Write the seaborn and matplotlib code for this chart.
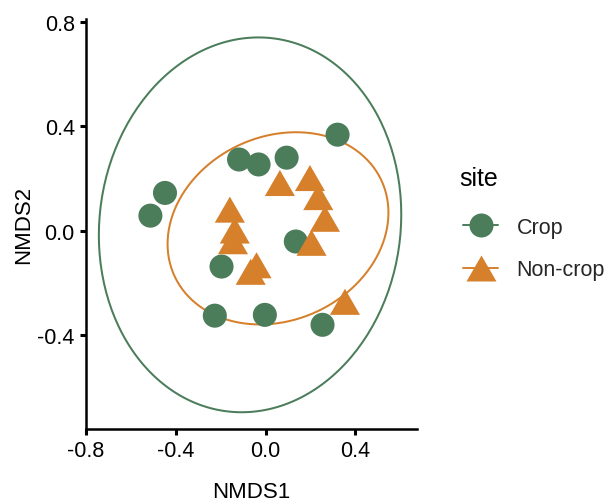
import numpy as np
import pandas as pd
import matplotlib
matplotlib.use("Agg")
import matplotlib.pyplot as plt
from matplotlib.lines import Line2D
import seaborn as sns

# ---- data ----
sites = ["Crop", "Non-crop"]
crop_x = [0.321, -0.118, -0.031, 0.094, -0.448, -0.513, 0.135, -0.196, -0.226, -0.003, 0.254]
crop_y = [0.367, 0.272, 0.253, 0.279, 0.144, 0.057, -0.042, -0.138, -0.326, -0.323, -0.361]
noncrop_x = [0.064, 0.198, 0.235, 0.265, 0.205, -0.159, -0.137, -0.145, -0.040, -0.066, 0.354]
noncrop_y = [0.182, 0.201, 0.128, 0.045, -0.047, 0.080, 0.000, -0.041, -0.133, -0.158, -0.273]
x_ticks = [-0.8, -0.4, 0.0, 0.4]
y_ticks = [-0.4, 0.0, 0.4, 0.8]

df = pd.DataFrame({
    "NMDS1": crop_x + noncrop_x,
    "NMDS2": crop_y + noncrop_y,
    "site": ["Crop"] * len(crop_x) + ["Non-crop"] * len(noncrop_x),
})

colors = {"Crop": "#4B7D5B", "Non-crop": "#D6802C"}
tri = [(-1, -0.866), (1, -0.866), (0, 0.866)]
markers = {"Crop": "o", "Non-crop": tri}

sns.set_theme(style="ticks")
plt.rcParams["font.family"] = ["Liberation Sans", "DejaVu Sans"]

fig = plt.figure(figsize=(6.11, 5.02), dpi=100)
ax = fig.add_axes([86 / 611, 1 - 430 / 502, (417 - 86) / 611, (430 - 20) / 502])

sns.scatterplot(data=df, x="NMDS1", y="NMDS2", hue="site", style="site",
                size="site", sizes={"Crop": 300, "Non-crop": 470},
                palette=colors, markers=markers, linewidth=0, alpha=1,
                legend=False, ax=ax, zorder=3)


def cov_trob(X, nu=5, maxit=25, tol=0.01):
    n, p = X.shape
    loc = X.mean(axis=0)
    w = np.ones(n)
    for _ in range(maxit):
        w0 = w
        Xc = X - loc
        S = (w[:, None] * Xc).T @ Xc / w.sum()
        Q = np.einsum("ij,jk,ik->i", Xc, np.linalg.inv(S), Xc)
        w = (nu + p) / (nu + Q)
        loc = (w[:, None] * X).sum(axis=0) / w.sum()
        if np.all(np.abs(w - w0) < tol):
            break
    cov = (w[:, None] * Xc).T @ Xc / n
    return loc, cov


def ellipse_pts(x, y, level=0.95, segments=240):
    X = np.column_stack([x, y])
    n = len(x)
    center, shape = cov_trob(X)
    dfd = n - 1
    fq = (dfd / 2) * ((1 - level) ** (-2 / dfd) - 1)  # qf(level, 2, dfd)
    radius = np.sqrt(2 * fq)
    ang = np.linspace(0, 2 * np.pi, segments + 1)
    circ = np.column_stack([np.cos(ang), np.sin(ang)])
    L = np.linalg.cholesky(shape)
    pts = center + radius * (circ @ L.T)
    return pts[:, 0], pts[:, 1]


for s, xs, ys in [("Crop", crop_x, crop_y), ("Non-crop", noncrop_x, noncrop_y)]:
    ex, ey = ellipse_pts(np.array(xs), np.array(ys))
    ax.plot(ex, ey, color=colors[s], lw=1.45, zorder=2,
            solid_capstyle="butt", solid_joinstyle="round")

ax.set_xlim(-0.8, 0.675)
ax.set_ylim(-0.76, 0.81)
ax.set_xticks(x_ticks)
ax.set_yticks(y_ticks)
ax.set_xticklabels([f"{v:.1f}" for v in x_ticks])
ax.set_yticklabels([f"{v:.1f}" for v in y_ticks])
sns.despine(ax=ax)
for sp in ["left", "bottom"]:
    ax.spines[sp].set_linewidth(1.8)
    ax.spines[sp].set_color("black")
ax.tick_params(axis="both", length=4.5, width=2.2, color="black",
               labelsize=15.5, labelcolor="black", pad=3.6)
ax.set_xlabel("NMDS1", fontsize=16, labelpad=14, color="black")
ax.set_ylabel("NMDS2", fontsize=16, labelpad=2, color="black")

fig.text(459 / 611, 1 - 186 / 502, "site", fontsize=18, color="black",
         ha="left", va="baseline")

handles = [
    Line2D([0], [0], color=colors["Crop"], lw=1.4, marker="o", markersize=17.3,
           markeredgewidth=0),
    Line2D([0], [0], color=colors["Non-crop"], lw=1.4, marker=tri, markersize=21.6,
           markeredgewidth=0),
]
leg = fig.legend(handles, sites, loc="upper left",
                 bbox_to_anchor=(463 / 611, 1 - 218 / 502), frameon=False,
                 fontsize=15.5, handlelength=1.63, borderpad=0,
                 handletextpad=0.85, labelspacing=0.98, borderaxespad=0)
fig.savefig("out.png", dpi=100)
